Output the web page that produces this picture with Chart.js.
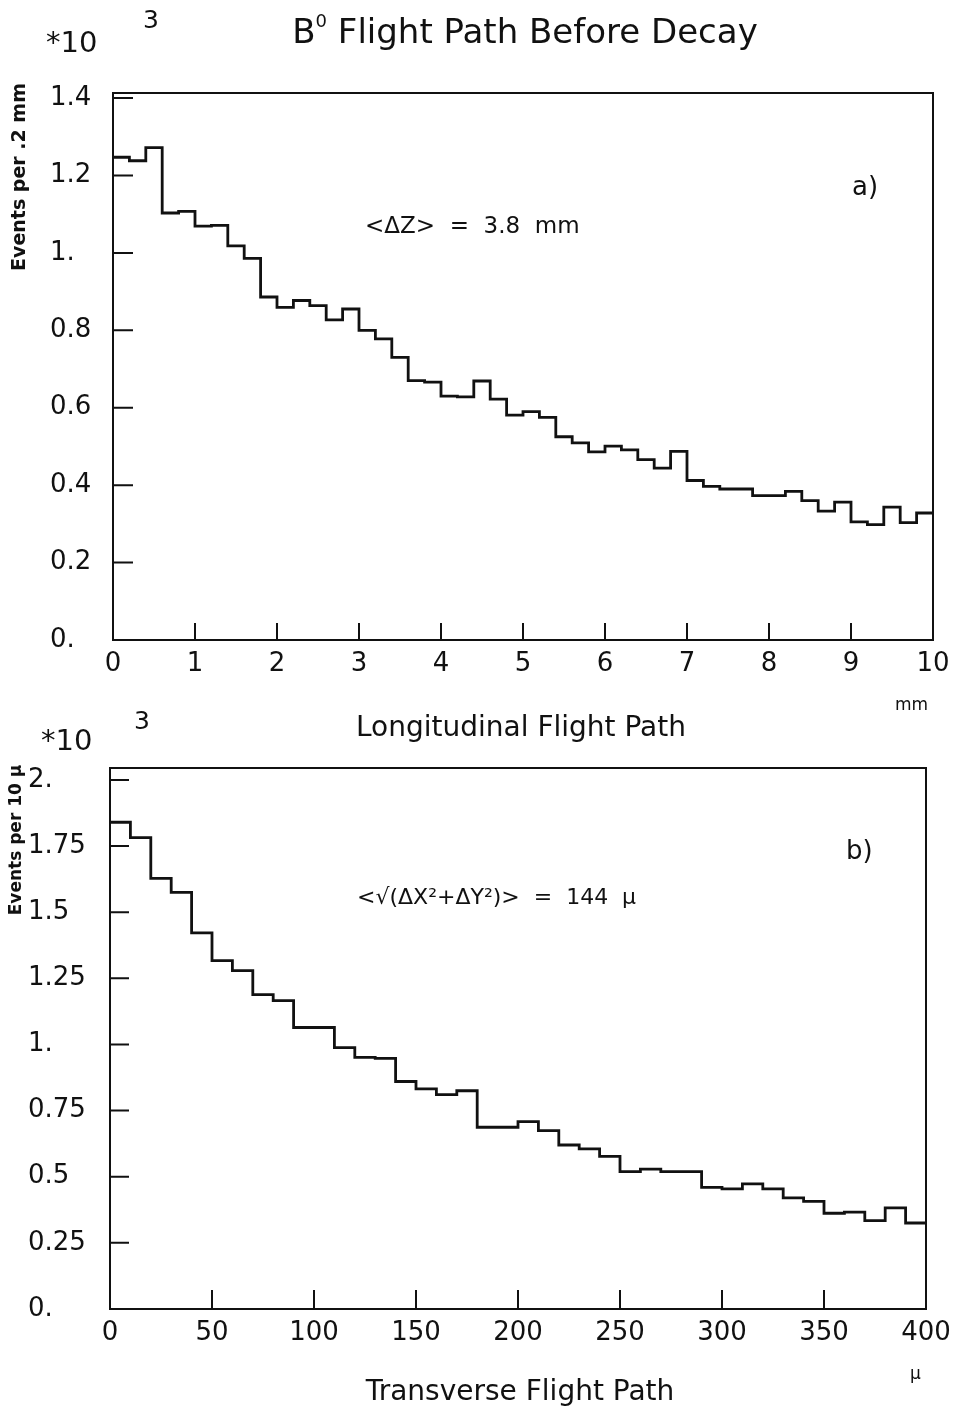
<!DOCTYPE html>
<html>
<head>
<meta charset="utf-8">
<script src="https://cdn.jsdelivr.net/npm/chart.js@4.4.1/dist/chart.umd.min.js"></script>
<style>
    body { margin: 0; background: #fff; }
    #wrap { position: relative; width: 955px; height: 1411px; overflow: hidden; }
    canvas { position: absolute; left: 0; }
    #zChart { top: 0; }
    #rChart { top: 700px; }
</style>
</head>
<body>
<div id="wrap">
    <canvas id="zChart" width="955" height="745"></canvas>
    <canvas id="rChart" width="955" height="711"></canvas>
</div>
<script>
// Histogram a) longitudinal flight path, bins of 0.2 mm, events in units of 10^3
const zBinWidth = 0.2;
const zCounts = [1.247, 1.238, 1.272, 1.103, 1.107, 1.069, 1.071, 1.018, 0.986, 0.886,
                 0.859, 0.877, 0.864, 0.827, 0.855, 0.800, 0.778, 0.730, 0.670, 0.666,
                 0.630, 0.628, 0.669, 0.622, 0.581, 0.590, 0.575, 0.525, 0.509, 0.486,
                 0.501, 0.491, 0.466, 0.444, 0.487, 0.412, 0.397, 0.390, 0.390, 0.373,
                 0.373, 0.384, 0.360, 0.333, 0.356, 0.305, 0.298, 0.343, 0.303, 0.328];
const zXTicks = [0, 1, 2, 3, 4, 5, 6, 7, 8, 9, 10];
const zYTicks = [0, 0.2, 0.4, 0.6, 0.8, 1.0, 1.2, 1.4];
const zYLabels = ['0.', '0.2', '0.4', '0.6', '0.8', '1.', '1.2', '1.4'];

// Histogram b) transverse flight path, bins of 10 micron
const rBinWidth = 10;
const rCounts = [1.840, 1.782, 1.628, 1.575, 1.422, 1.317, 1.279, 1.188, 1.166, 1.064,
                 1.064, 0.988, 0.951, 0.947, 0.860, 0.832, 0.810, 0.825, 0.687, 0.687,
                 0.708, 0.674, 0.620, 0.605, 0.577, 0.519, 0.529, 0.519, 0.519, 0.460,
                 0.454, 0.473, 0.454, 0.420, 0.407, 0.362, 0.366, 0.334, 0.382, 0.325];
const rXTicks = [0, 50, 100, 150, 200, 250, 300, 350, 400];
const rYTicks = [0, 0.25, 0.5, 0.75, 1.0, 1.25, 1.5, 1.75, 2.0];
const rYLabels = ['0.', '0.25', '0.5', '0.75', '1.', '1.25', '1.5', '1.75', '2.'];

const FONT = "'DejaVu Sans', 'Liberation Sans', sans-serif";
const INK = '#111';

// turn bin contents into step points (left edges + closing right edge)
function stepPoints(counts, width) {
    const pts = counts.map((v, i) => ({ x: i * width, y: v }));
    pts.push({ x: counts.length * width, y: counts[counts.length - 1] });
    return pts;
}

function txt(ctx, s, x, y, size, align, weight) {
    ctx.font = (weight || 'normal') + ' ' + size + 'px ' + FONT;
    ctx.textAlign = align || 'left';
    ctx.textBaseline = 'middle';
    ctx.fillStyle = INK;
    ctx.fillText(s, x, y);
}

function vtxt(ctx, s, x, y, size) {
    ctx.save();
    ctx.translate(x, y);
    ctx.rotate(-Math.PI / 2);
    txt(ctx, s, 0, 0, size, 'center', 'bold');
    ctx.restore();
}

// frame + inward tick marks
function drawFrame(chart, xt, yt) {
    const ctx = chart.ctx;
    const a = chart.chartArea;
    ctx.save();
    ctx.strokeStyle = INK;
    ctx.lineWidth = 2;
    ctx.strokeRect(a.left, a.top, a.right - a.left, a.bottom - a.top);
    ctx.beginPath();
    chart.scales.y.ticks.forEach(t => {
        const py = chart.scales.y.getPixelForValue(t.value);
        ctx.moveTo(a.left, py);
        ctx.lineTo(a.left + yt, py);
    });
    chart.scales.x.ticks.forEach(t => {
        const px = chart.scales.x.getPixelForValue(t.value);
        ctx.moveTo(px, a.bottom);
        ctx.lineTo(px, a.bottom - xt);
    });
    ctx.stroke();
    ctx.restore();
}

function histOptions(xMax, xTicks, yMax, yTicks, yLabels, pad, yWidth, xHeight) {
    return {
        responsive: false,
        animation: false,
        events: [],
        layout: { padding: pad },
        plugins: { legend: { display: false }, tooltip: { enabled: false } },
        scales: {
            x: {
                type: 'linear', min: 0, max: xMax,
                grid: { display: false, drawTicks: false },
                border: { display: false },
                afterBuildTicks: s => { s.ticks = xTicks.map(v => ({ value: v })); },
                afterFit: s => { s.height = xHeight; s.paddingLeft = 0; s.paddingRight = 0; },
                ticks: {
                    padding: 9, color: INK, maxRotation: 0, autoSkip: false,
                    font: { family: FONT, size: 26 },
                    callback: v => String(v)
                }
            },
            y: {
                type: 'linear', min: 0, max: yMax,
                grid: { display: false, drawTicks: false },
                border: { display: false },
                afterBuildTicks: s => { s.ticks = yTicks.map(v => ({ value: v })); },
                afterFit: s => { s.width = yWidth; s.paddingTop = 0; s.paddingBottom = 0; },
                ticks: {
                    crossAlign: 'far', color: INK, autoSkip: false,
                    font: { family: FONT, size: 26 },
                    callback: (v, i) => yLabels[yTicks.indexOf(v)] ?? ''
                }
            }
        }
    };
}

function histDataset(counts, width) {
    return {
        data: stepPoints(counts, width),
        stepped: 'before',
        borderColor: INK,
        borderWidth: 2.8,
        pointRadius: 0,
        fill: false,
        clip: false
    };
}

// --- chart a)
const zDecor = {
    id: 'zDecor',
    afterDraw(chart) {
        const ctx = chart.ctx;
        drawFrame(chart, 17, 20);
        // title with superscript
        ctx.font = '34px ' + FONT;
        const rest = ' Flight Path Before Decay';
        const wB = ctx.measureText('B').width;
        const wR = ctx.measureText(rest).width;
        ctx.font = '18px ' + FONT;
        const w0 = ctx.measureText('0').width;
        let x = 525 - (wB + w0 + wR) / 2;
        txt(ctx, 'B', x, 34, 34);
        txt(ctx, '0', x + wB, 22, 18);
        txt(ctx, rest, x + wB + w0, 34, 34);
        txt(ctx, '3', 143, 21, 25);
        txt(ctx, '*10', 46, 44, 29);
        vtxt(ctx, 'Events per .2 mm', 20, 177, 19);
        txt(ctx, 'a)', 852, 188, 26);
        txt(ctx, '<\u0394Z>  =  3.8  mm', 365, 227, 23);
        txt(ctx, 'mm', 895, 706, 17);
        txt(ctx, 'Longitudinal Flight Path', 521, 729, 28, 'center');
    }
};

new Chart(document.getElementById('zChart'), {
    type: 'line',
    data: { datasets: [histDataset(zCounts, zBinWidth)] },
    options: histOptions(10, zXTicks, 1.413, zYTicks, zYLabels,
        { left: 50, right: 22, top: 93, bottom: 0 }, 63, 105),
    plugins: [zDecor]
});

// --- chart b)  (canvas sits 700px down the page)
const rDecor = {
    id: 'rDecor',
    afterDraw(chart) {
        const ctx = chart.ctx;
        drawFrame(chart, 19, 19);
        txt(ctx, '3', 134, 22, 25);
        txt(ctx, '*10', 41, 42, 29);
        vtxt(ctx, 'Events per 10 \u03bc', 17, 140, 17);
        txt(ctx, 'b)', 846, 152, 26);
        txt(ctx, '<\u221a(\u0394X\u00b2+\u0394Y\u00b2)>  =  144  \u03bc', 357, 198, 22);
        txt(ctx, '\u03bc', 910, 675, 17);
        txt(ctx, 'Transverse Flight Path', 520, 693, 28, 'center');
    }
};

new Chart(document.getElementById('rChart'), {
    type: 'line',
    data: { datasets: [histDataset(rCounts, rBinWidth)] },
    options: histOptions(400, rXTicks, 2.045, rYTicks, rYLabels,
        { left: 28, right: 29, top: 68, bottom: 0 }, 82, 102),
    plugins: [rDecor]
});
</script>
</body>
</html>
